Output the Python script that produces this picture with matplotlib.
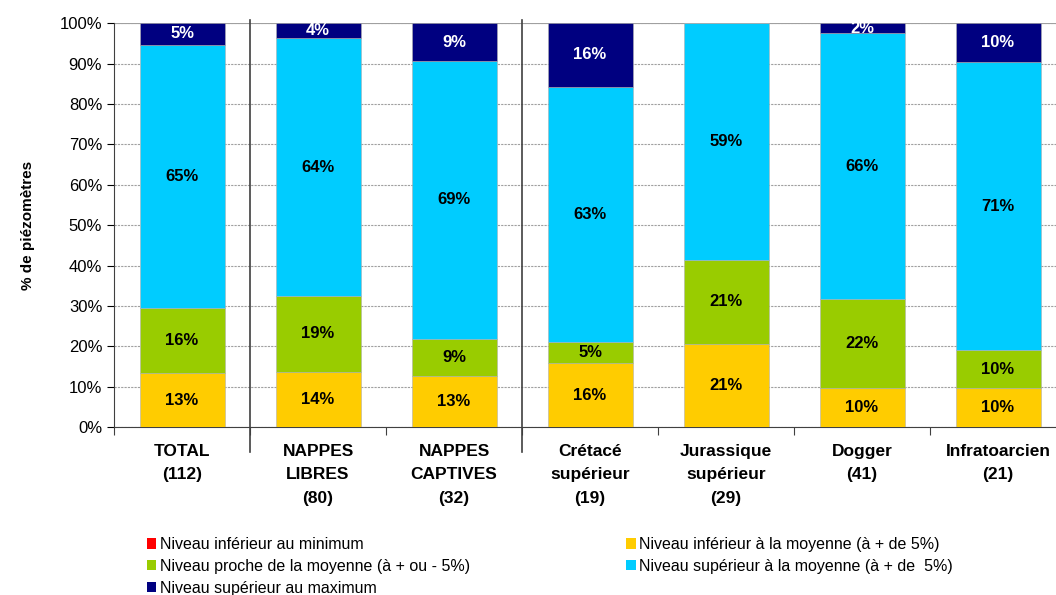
import matplotlib
matplotlib.use("Agg")
import numpy as np
import matplotlib.pyplot as plt
from matplotlib.patches import Patch

# =============================
# DATA (% of piezometers)
# =============================
categories = ["TOTAL\n(112)", "NAPPES\nLIBRES\n(80)", "NAPPES\nCAPTIVES\n(32)",
              "Crétacé\nsupérieur\n(19)", "Jurassique\nsupérieur\n(29)",
              "Dogger\n(41)", "Infratoarcien\n(21)"]

below_min  = [0.0, 0.0, 0.0, 0.0, 0.0, 0.0, 0.0]
below_mean = [13.4, 13.75, 12.6, 15.8, 20.7, 9.76, 9.6]
near_mean  = [16.1, 18.75, 9.3, 5.3, 20.7, 21.95, 9.5]
above_mean = [65.2, 63.75, 68.7, 63.2, 58.6, 65.85, 71.3]
above_max  = [5.3, 3.75, 9.4, 15.7, 0.0, 2.44, 9.6]

series_labels = ["Niveau inférieur au minimum",
                 "Niveau inférieur à la moyenne (à + de 5%)",
                 "Niveau proche de la moyenne (à + ou - 5%)",
                 "Niveau supérieur à la moyenne (à + de  5%)",
                 "Niveau supérieur au maximum"]
colors = ["#FF0000", "#FFCC00", "#99CC00", "#00CCFF", "#000080"]
text_colors = ["black", "black", "black", "black", "white"]

separators = [0.5, 2.5]

# =============================
# PLOT
# =============================
plt.rcParams['font.family'] = ['Liberation Sans', 'DejaVu Sans']

fig = plt.figure(figsize=(10.56, 5.95), dpi=100)
ax = fig.add_axes([0.108, 0.282, 0.9015, 0.679])

x = np.arange(len(categories))
width = 0.625
series = [below_min, below_mean, near_mean, above_mean, above_max]

bottom = np.zeros(len(categories))
for vals, col, tcol in zip(series, colors, text_colors):
    vals = np.array(vals)
    ax.bar(x, vals, width, bottom=bottom, color=col, edgecolor="#b0b0b0",
           linewidth=0.4, zorder=3)
    for xi, v, b in zip(x, vals, bottom):
        if v > 0.5:
            ax.text(xi, b + v / 2, f"{v:.0f}%", ha="center", va="center",
                    color=tcol, fontsize=12, fontweight="bold", zorder=4)
    bottom += vals

ax.set_xlim(-0.5, len(categories) - 0.5)
ax.set_ylim(0, 100)
ax.set_yticks(np.arange(0, 101, 10))
ax.set_yticklabels([f"{v}%" for v in range(0, 101, 10)], fontsize=12)
ax.yaxis.grid(True, linestyle=(0, (2, 1)), color="#a0a0a0", linewidth=0.8, zorder=0)
ax.axhline(100, color="#a0a0a0", linewidth=1.5, zorder=1)

ax.set_xticks(x)
ax.set_xticklabels(categories, fontsize=12.5, fontweight="bold", va="top",
                   linespacing=1.7)
ax.tick_params(axis="x", length=0, pad=12)
ax.set_xticks(np.arange(-0.5, len(categories), 1), minor=True)
ax.tick_params(axis="x", which="minor", length=6, width=0.8, color="#404040")
ax.tick_params(axis="y", length=5, width=0.8, direction="out")

for s in ["top", "right"]:
    ax.spines[s].set_visible(False)
ax.spines["left"].set_color("#404040")
ax.spines["bottom"].set_color("#404040")

for sx in separators:
    ax.plot([sx, sx], [100.8, -6.2], color="#404040", linewidth=1.2,
            clip_on=False, zorder=5)

ax.set_ylabel("% de piézomètres", fontsize=11, fontweight="bold", labelpad=18)

handles = [Patch(facecolor=c, edgecolor="none") for c in colors]
order = [0, 2, 4, 1, 3]
fig.legend([handles[i] for i in order], [series_labels[i] for i in order],
           loc="upper left", bbox_to_anchor=(0.133, 0.108), ncol=2,
           frameon=False, fontsize=11.5, handlelength=0.6, handleheight=0.6,
           handletextpad=0.2, labelspacing=0.42, columnspacing=9.8,
           borderaxespad=0)

fig.savefig("out.png", dpi=100)
